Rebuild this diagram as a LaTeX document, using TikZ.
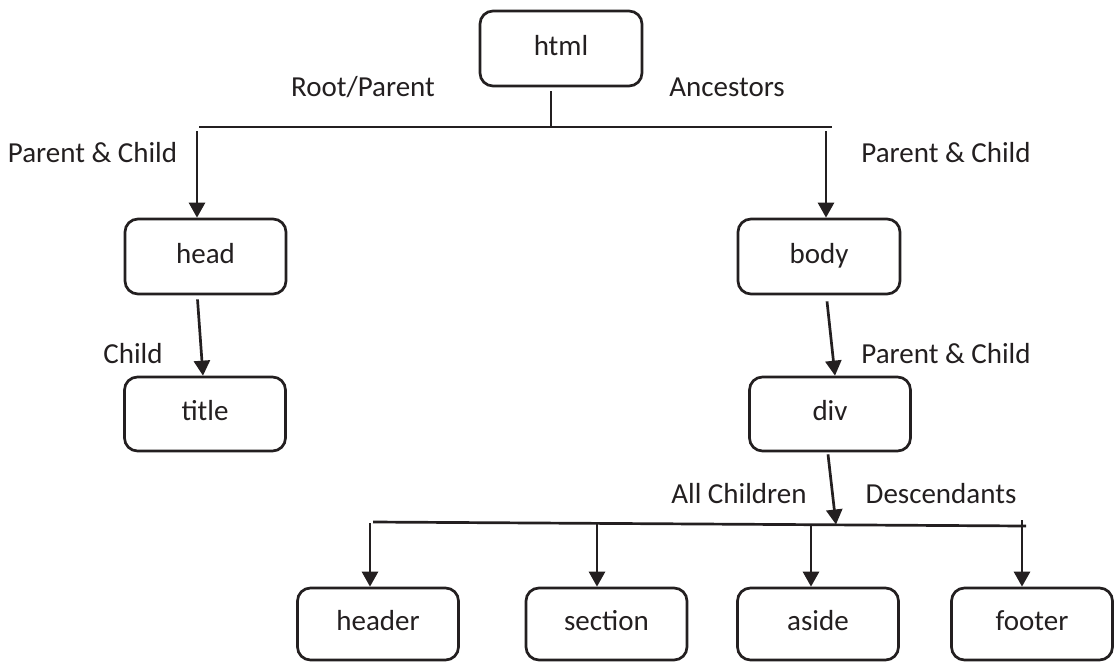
\documentclass[tikz,border=0pt]{standalone}
\usepackage{fontspec}
\setmainfont{Carlito}
\usetikzlibrary{arrows.meta}
\definecolor{ink}{HTML}{231F20}
\begin{document}
\begin{tikzpicture}[x=1pt,y=-1pt,
  box/.style={draw=ink, line width=2.7pt, rounded corners=13pt, minimum width=161pt, minimum height=74pt, inner sep=0pt, text height=19pt, text depth=6pt, text=ink, font=\fontsize{29}{34}\selectfont},
  lbl/.style={text=ink, inner sep=0pt, font=\fontsize{29}{34}\selectfont},
  conn/.style={draw=ink, line width=2.7pt},
  arr/.style={conn, -{Triangle[length=15pt, width=16pt]}}]
\useasboundingbox (0,0) rectangle (1115,662);
% boxes
\node[box, minimum width=162pt, minimum height=75pt] (html) at (561,48.5) {html};
\node[box, minimum height=75pt] (head) at (205.5,256.5) {head};
\node[box] (title) at (205,414) {title};
\node[box, minimum height=75pt, minimum width=162pt] (body) at (819,256.5) {body};
\node[box] (div) at (830,414) {div};
\node[box, minimum height=72pt] (header) at (378,624) {header};
\node[box, minimum height=72pt] (section) at (606.5,624) {section};
\node[box, minimum height=72pt] (aside) at (818,624) {aside};
\node[box, minimum height=72pt] (footer) at (1032,624) {footer};
% labels
\node[lbl] (lroot) at (363,87) {Root/Parent};
\node[lbl] (lanc) at (727,87) {Ancestors};
\node[lbl] (lpc1) at (92.5,153) {Parent \& Child};
\node[lbl] (lpc2) at (946,153) {Parent \& Child};
\node[lbl] (lchild) at (133,354) {Child};
\node[lbl] (lpc3) at (946,354) {Parent \& Child};
\node[lbl] (lall) at (739,494) {All Children};
\node[lbl] (ldesc) at (941,494) {Descendants};
% top bar
\coordinate (tb) at (551,128);
\coordinate (tl) at (199,127);
\coordinate (tr) at (832,127);
\coordinate (vl) at (197,131);
\coordinate (vr) at (826,131);
\draw[conn] ([yshift=-4pt]html.south -| tb) -- (tb);
\draw[conn] (tl) -- (tr);
\draw[arr] (vl) -- (head.north -| vl);
\draw[arr] (vr) -- (body.north -| vr);
% head -> title
\draw[arr] ([xshift=-8pt,yshift=-4pt]head.south) -- ([xshift=-2pt]title.north);
% body -> div
\draw[arr] ([xshift=8pt,yshift=-6pt]body.south) -- ([xshift=5pt]div.north);
% div -> bottom bar
\coordinate (bl) at (373,522);
\coordinate (br) at (1026,526);
\coordinate (bd) at (836,524.5);
\draw[arr] ([xshift=-2pt,yshift=-2pt]div.south) -- (bd);
\draw[conn] (bl) -- (br);
\coordinate (v1) at (370,523);
\coordinate (v2) at (597,523);
\coordinate (v3) at (811,524);
\coordinate (v4) at (1022,520);
\draw[arr] (v1) -- (header.north -| v1);
\draw[arr] (v2) -- (section.north -| v2);
\draw[arr] (v3) -- (aside.north -| v3);
\draw[arr] (v4) -- (footer.north -| v4);
\end{tikzpicture}
\end{document}
